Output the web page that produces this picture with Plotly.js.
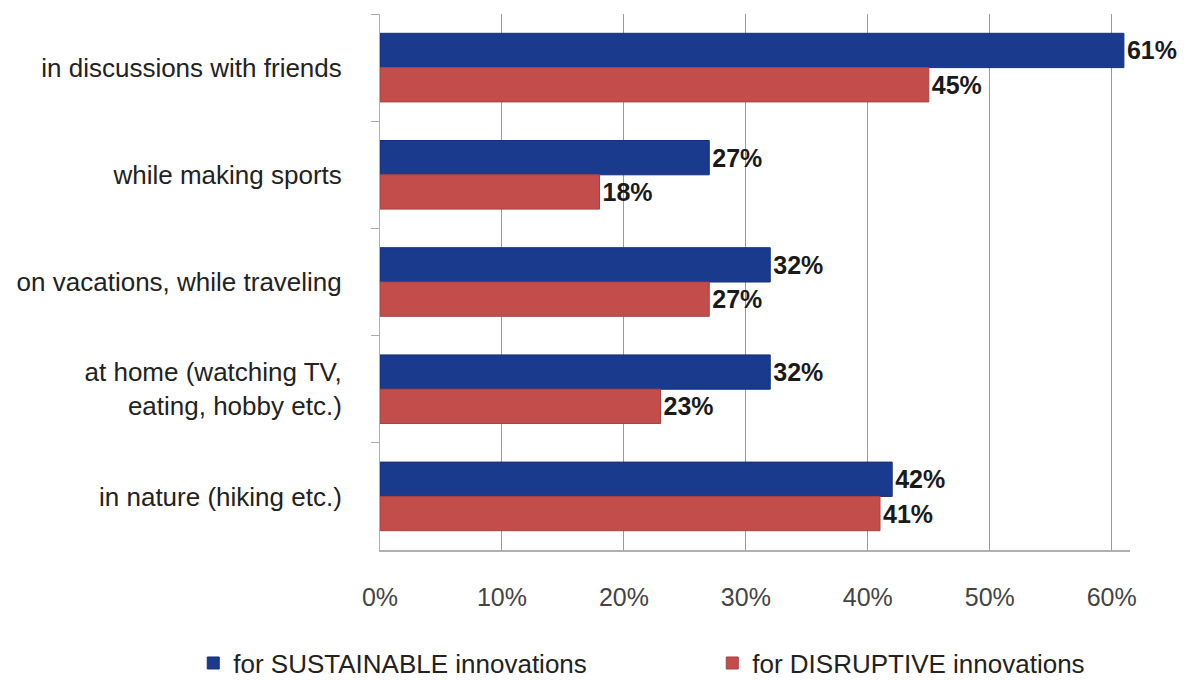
<!DOCTYPE html>
<html>
<head>
<meta charset="utf-8">
<script src="https://cdn.plot.ly/plotly-3.0.1.min.js"></script>
<style>html,body{margin:0;padding:0;background:#fff;}#chart{width:1189px;height:680px;}</style>
</head>
<body>
<div id="chart"></div>
<script>
const categories = [
  "in discussions with friends",
  "while making sports",
  "on vacations, while traveling",
  "at home (watching TV,<br>eating, hobby etc.)",
  "in nature (hiking etc.)"
];
const sustainable = [61, 27, 32, 32, 42];
const disruptive = [45, 18, 27, 23, 41];
const seriesNames = ["for SUSTAINABLE innovations", "for DISRUPTIVE innovations"];
const tickValues = [0, 10, 20, 30, 40, 50, 60];

const FONT = "'Liberation Sans Narrow', 'Liberation Sans', Arial, sans-serif";

const traces = [
  {
    type: 'bar', orientation: 'h', name: seriesNames[0],
    y: categories, x: sustainable,
    marker: {color: '#1a3a8e', line: {color: '#13307a', width: 1}},
    text: sustainable.map(v => v + '%'), textposition: 'outside',
    textfont: {family: FONT, size: 25, color: '#1a1a1a', weight: 'bold'},
    cliponaxis: false, hoverinfo: 'x+y'
  },
  {
    type: 'bar', orientation: 'h', name: seriesNames[1],
    y: categories, x: disruptive,
    marker: {color: '#c24d4a', line: {color: '#a84240', width: 1}},
    text: disruptive.map(v => v + '%'), textposition: 'outside',
    textfont: {family: FONT, size: 25, color: '#1a1a1a', weight: 'bold'},
    cliponaxis: false, hoverinfo: 'x+y'
  }
];

const layout = {
  width: 1189, height: 680,
  margin: {l: 380, r: 59, t: 14, b: 130, autoexpand: false},
  paper_bgcolor: '#ffffff', plot_bgcolor: '#ffffff',
  font: {family: FONT, size: 24, color: '#333'},
  barmode: 'group', bargap: 0.36, bargroupgap: 0,
  showlegend: true,
  xaxis: {
    range: [0, 61.5],
    tickvals: tickValues, ticktext: tickValues.map(v => v + '%'),
    showgrid: true, gridcolor: '#9a9a9a', gridwidth: 1,
    zeroline: false, showline: true, linecolor: '#b0b0b0', linewidth: 2,
    ticks: '', ticklabelstandoff: 24,
    tickfont: {family: FONT, size: 25, color: '#444'}
  },
  yaxis: {
    autorange: 'reversed', type: 'category',
    showgrid: false, zeroline: false,
    showline: true, linecolor: '#b0b0b0', linewidth: 1,
    ticks: 'outside', tickson: 'boundaries', ticklen: 8, tickcolor: '#aaaaaa',
    ticklabelstandoff: 32,
    tickfont: {family: FONT, size: 26, color: '#222'}
  },
  legend: {
    orientation: 'h', xref: 'paper', yref: 'paper',
    x: -0.249, y: -0.211, xanchor: 'left', yanchor: 'middle',
    entrywidth: 474, entrywidthmode: 'pixels',
    font: {family: FONT, size: 26, color: '#222'},
    itemwidth: 30
  }
};

Plotly.newPlot('chart', traces, layout, {displayModeBar: false, staticPlot: true});
</script>
</body>
</html>
